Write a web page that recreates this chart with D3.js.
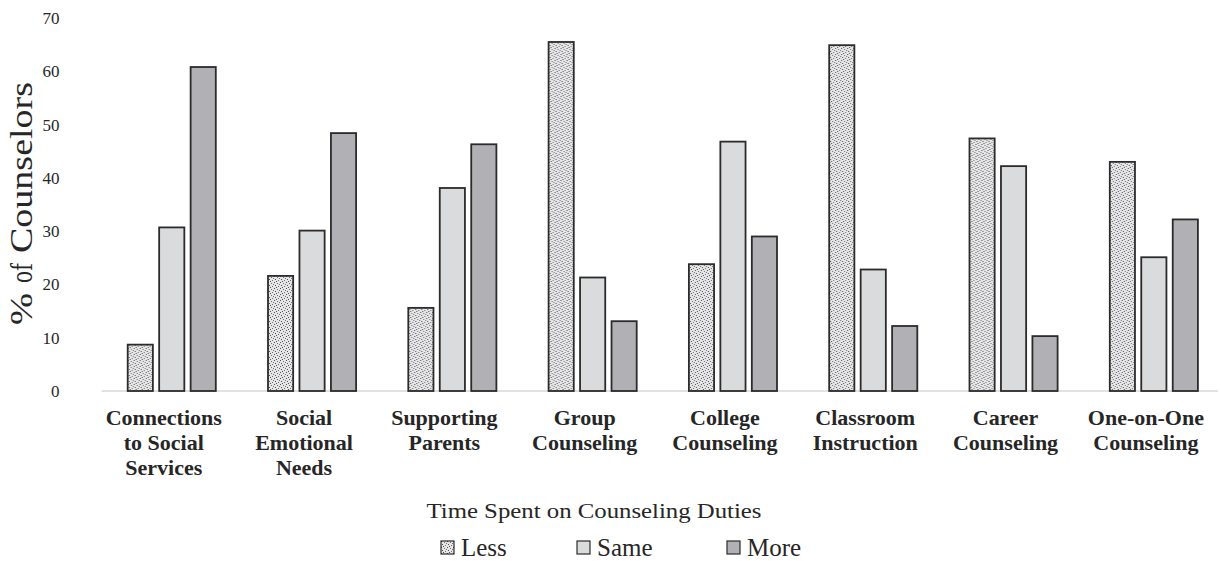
<!DOCTYPE html>
<html>
<head>
<meta charset="utf-8">
<script src="https://cdn.jsdelivr.net/npm/d3@7"></script>
<style>
  html, body { margin: 0; padding: 0; background: #fff; }
  svg { display: block; }
  text { font-family: "Liberation Serif", "Times New Roman", serif; fill: #262626; }
</style>
</head>
<body>
<svg id="chart" width="1221" height="561"></svg>
<script>
// Duties (category labels, split into lines)
const categories = [
  ["Connections", "to Social", "Services"],
  ["Social", "Emotional", "Needs"],
  ["Supporting", "Parents"],
  ["Group", "Counseling"],
  ["College", "Counseling"],
  ["Classroom", "Instruction"],
  ["Career", "Counseling"],
  ["One-on-One", "Counseling"]
];
const seriesNames = ["Less", "Same", "More"];
const lessValues = [8.7, 21.6, 15.6, 65.5, 23.8, 64.9, 47.4, 43.0];
const sameValues = [30.7, 30.1, 38.1, 21.3, 46.8, 22.8, 42.2, 25.1];
const moreValues = [60.8, 48.4, 46.3, 13.1, 29.0, 12.2, 10.3, 32.2];
const yTicks = [0, 10, 20, 30, 40, 50, 60, 70];

const svg = d3.select("#chart");
const catKeys = categories.map(c => c.join(" "));
const seriesValues = [lessValues, sameValues, moreValues];

// stipple pattern for the "Less" series
const defs = svg.append("defs");
const pat = defs.append("pattern")
  .attr("id", "stipple").attr("patternUnits", "userSpaceOnUse")
  .attr("width", 6).attr("height", 6);
pat.append("rect").attr("width", 6).attr("height", 6).attr("fill", "#e6e6e8");
[[0,0],[3,1],[1,3],[4,4],[2,5],[5,2]].forEach(([dx, dy], i) => {
  pat.append("rect").attr("x", dx).attr("y", dy).attr("width", 1).attr("height", 1)
    .attr("fill", i % 2 ? "#707070" : "#505050");
});

const fills = { Less: "url(#stipple)", Same: "#dadbdd", More: "#b1b1b5" };

const x0 = d3.scaleBand().domain(catKeys).range([101.6, 1224])
  .paddingInner(0.372).paddingOuter(0.186);
const x1 = d3.scaleBand().domain(seriesNames).range([0, x0.bandwidth()]).paddingInner(0.2);
const y = d3.scaleLinear().domain([0, 70]).range([391, 18]);

// y axis: labels only
const yAxis = svg.append("g").attr("transform", `translate(${x0.range()[0]},0)`)
  .call(d3.axisLeft(y).tickValues(yTicks).tickSize(0).tickPadding(42));
yAxis.select(".domain").remove();
yAxis.selectAll("text").attr("font-family", "Liberation Serif").attr("font-size", 17).attr("fill", "#262626");

// baseline
svg.append("line")
  .attr("x1", x0.range()[0]).attr("x2", x0.range()[1] - 6)
  .attr("y1", y(0)).attr("y2", y(0))
  .attr("stroke", "#d9d9d9").attr("stroke-width", 1.5);

// bars
const groups = svg.append("g").selectAll("g").data(catKeys).join("g")
  .attr("transform", d => `translate(${x0(d)},0)`);
groups.selectAll("rect")
  .data((d, i) => seriesNames.map((s, j) => ({ s, v: seriesValues[j][i] })))
  .join("rect")
  .attr("x", d => x1(d.s))
  .attr("width", x1.bandwidth())
  .attr("y", d => y(d.v))
  .attr("height", d => y(0) - y(d.v))
  .attr("fill", d => fills[d.s])
  .attr("stroke", "#2b2b2b").attr("stroke-width", 1.8);

// category labels
const labels = svg.append("g").selectAll("text").data(categories).join("text")
  .attr("x", (d, i) => x0(catKeys[i]) + x0.bandwidth() / 2 - 8)
  .attr("y", 425)
  .attr("text-anchor", "middle")
  .attr("font-weight", "bold").attr("font-size", 22);
labels.selectAll("tspan").data(d => d).join("tspan")
  .attr("x", function() { return this.parentNode.getAttribute("x"); })
  .attr("dy", (d, i) => i === 0 ? 0 : 25)
  .text(d => d);

// y axis title, words spaced apart
const yTitle = svg.append("text")
  .attr("transform", "translate(32,0) rotate(-90)")
  .attr("font-size", 32);
[["%", -325, 32], ["of", -283, 20], ["Counselors", -253, 171]].forEach(([w, pos, len]) => {
  yTitle.append("tspan").attr("x", pos)
    .attr("textLength", len).attr("lengthAdjust", "spacingAndGlyphs").text(w);
});

svg.append("text")
  .attr("x", 594).attr("y", 518).attr("text-anchor", "middle")
  .attr("font-size", 22)
  .attr("textLength", 335).attr("lengthAdjust", "spacingAndGlyphs")
  .text("Time Spent on Counseling Duties");

// legend
const legendX = [441, 577, 727];
const legend = svg.append("g").selectAll("g").data(seriesNames).join("g")
  .attr("transform", (d, i) => `translate(${legendX[i]},541)`);
legend.append("rect").attr("width", 13).attr("height", 13)
  .attr("fill", d => fills[d]).attr("stroke", "#2b2b2b").attr("stroke-width", 1.2);
legend.append("text").attr("x", 20).attr("y", 15)
  .attr("font-size", 25).text(d => d);
</script>
</body>
</html>
